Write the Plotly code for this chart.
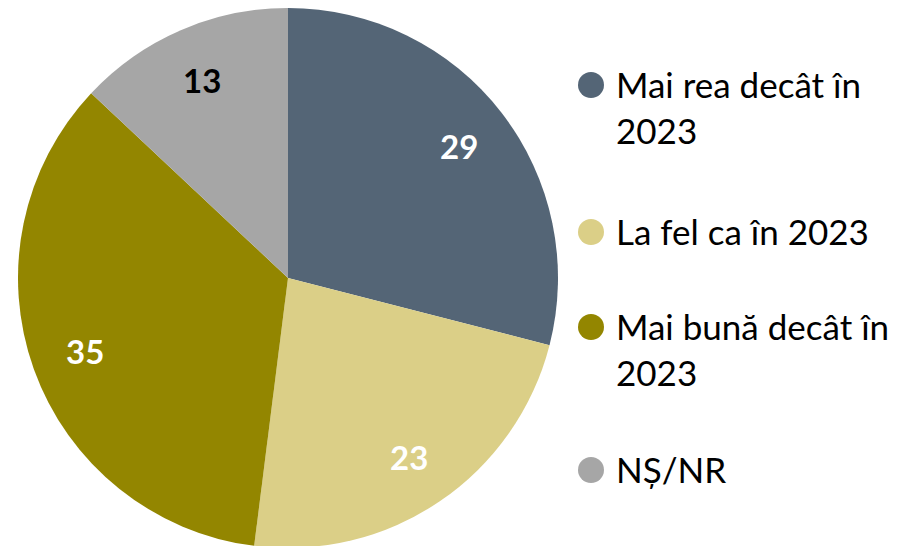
import math
import plotly.graph_objects as go

categories = ["Mai rea decât în 2023", "La fel ca în 2023", "Mai bună decât în 2023", "NȘ/NR"]
legend_labels = ["Mai rea decât în<br>2023", "La fel ca în 2023", "Mai bună decât în<br>2023", "NȘ/NR"]
values = [29, 23, 35, 13]
colors = ["#546576", "#DBCF87", "#938600", "#A6A6A6"]
label_colors = ["white", "white", "white", "black"]

W, H = 912, 546
OFF = 8  # page body margin offset
FONT = "Lato, Carlito, Calibri, sans-serif"

# pie geometry (pixels in the figure)
CX, CY, R = 288 - OFF, 278 - OFF, 270

fig = go.Figure()
fig.add_trace(go.Pie(
    labels=categories, values=values, sort=False, direction="clockwise", rotation=0,
    marker=dict(colors=colors, line=dict(width=0)),
    textinfo="none",
    domain=dict(x=[(CX - R) / W, (CX + R) / W], y=[1 - (CY + R) / H, 1 - (CY - R) / H]),
    showlegend=False, hoverinfo="skip",
))

# value labels at 0.8 radius along each slice's mid-angle
total = sum(values)
cum = 0
for v, c in zip(values, label_colors):
    mid = (cum + v / 2) / total * 2 * math.pi
    cum += v
    lx = CX + 0.8 * R * math.sin(mid)
    ly = CY - 0.8 * R * math.cos(mid)
    fig.add_annotation(x=lx, y=ly, xref="x", yref="y", text=f"<b>{v}</b>", showarrow=False,
                       xanchor="center", yanchor="middle",
                       font=dict(size=33, color=c, family=FONT))

# custom legend with large circle markers
line_h = 35 * 1.3
slots = [y - OFF for y in [85, 232, 327, 470]]

fig.add_trace(go.Scatter(
    x=[591 - OFF] * len(categories), y=slots, mode="markers",
    marker=dict(size=26, color=colors, line=dict(width=0)),
    showlegend=False, hoverinfo="skip", xaxis="x", yaxis="y",
))
for lab, sy in zip(legend_labels, slots):
    fig.add_annotation(x=614 - OFF, y=sy - line_h / 2 - 1, xref="x", yref="y", text=lab,
                       showarrow=False, xanchor="left", yanchor="top", align="left",
                       font=dict(size=35, color="black", family=FONT))

fig.update_layout(
    width=W, height=H, margin=dict(l=0, r=0, t=0, b=0),
    paper_bgcolor="white", plot_bgcolor="rgba(0,0,0,0)",
    xaxis=dict(range=[0, W], visible=False, domain=[0, 1], fixedrange=True),
    yaxis=dict(range=[H, 0], visible=False, domain=[0, 1], fixedrange=True),
    showlegend=False,
)
fig.write_html("out.html")
